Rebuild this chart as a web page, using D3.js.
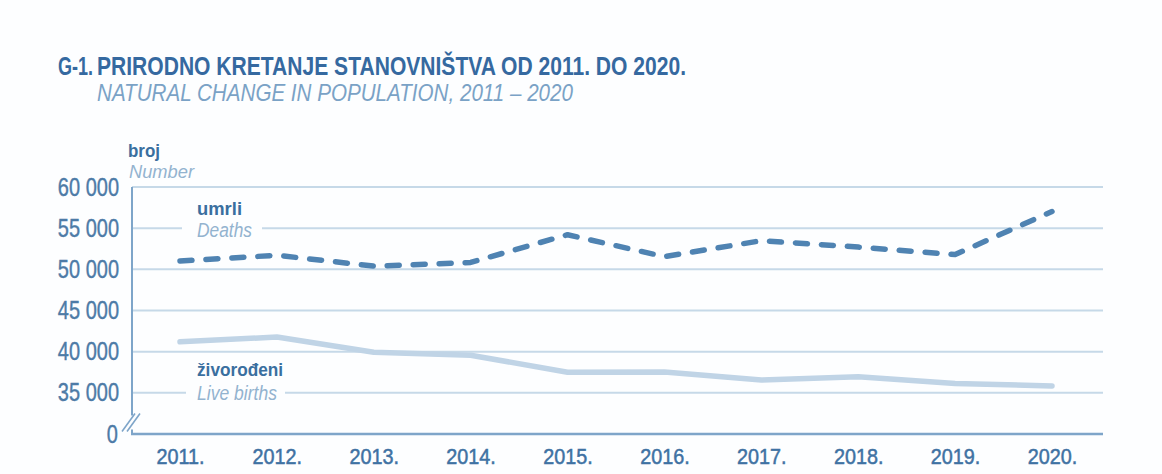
<!DOCTYPE html>
<html><head><meta charset="utf-8">
<script src="https://cdn.jsdelivr.net/npm/d3@7"></script>
<style>
body{margin:0;background:#fdfeff;}
text{font-family:"Liberation Sans",Arial,sans-serif;}
</style></head><body>
<svg id="c" width="1162" height="474"></svg>
<script>
const years = ["2011.","2012.","2013.","2014.","2015.","2016.","2017.","2018.","2019.","2020."];
const deaths = [51019, 51710, 50386, 50839, 54205, 51542, 53477, 52706, 51794, 57023];
const births = [41197, 41771, 39939, 39566, 37503, 37537, 36556, 36945, 36135, 35845];
const yTicks = [35000, 40000, 45000, 50000, 55000, 60000];

(function(){
const svg = d3.select("#c");
const pL = 132, pR = 1103, pT = 187, pB = 434;
const x = d3.scalePoint().domain(years).range([180, 1052]);
const y = d3.scaleLinear().domain([30000, 60000]).range([pB, pT]);
const fmt = v => d3.format(",")(v).replace(/,/g, " ");
const SX = 0.8;

const dark = "#3a6f9f", light = "#93b3cf";

function txt(px, py, s, o) {
  const t = svg.append("text")
    .attr("transform", `translate(${px},${py}) scale(${o.sx||SX},1)`)
    .attr("fill", o.fill).attr("font-size", o.size)
    .attr("font-weight", o.weight||"normal").attr("font-style", o.style||"normal")
    .attr("text-anchor", o.anchor||"start").text(s);
  if (o.len) t.attr("textLength", o.len/(o.sx||SX)).attr("lengthAdjust","spacingAndGlyphs");
  return t;
}

// title
txt(58, 75, "G-1.", {fill:"#3569a0", size:25, weight:"bold", len:35});
txt(97, 75, "PRIRODNO KRETANJE STANOVNIŠTVA OD 2011. DO 2020.", {fill:"#3569a0", size:25, weight:"bold", len:589});
txt(97, 101, "NATURAL CHANGE IN POPULATION, 2011 – 2020", {fill:"#7aa2c6", size:24, style:"italic", len:476});

txt(128, 157, "broj", {fill:dark, size:19, weight:"bold", len:32});
txt(129, 178, "Number", {fill:light, size:19, style:"italic", len:65});

// grid
const gaps = {55000:[182,262], 35000:[186,285]};
const grid = svg.append("g");
yTicks.forEach(t => {
  const g = gaps[t];
  if (g) {
    grid.append("line").attr("x1",pL).attr("x2",g[0]).attr("y1",y(t)).attr("y2",y(t));
    grid.append("line").attr("x1",g[1]).attr("x2",pR).attr("y1",y(t)).attr("y2",y(t));
  } else {
    grid.append("line").attr("x1",pL).attr("x2",pR).attr("y1",y(t)).attr("y2",y(t));
  }
});
grid.selectAll("line").attr("stroke","#c6d9e8").attr("stroke-width",2);

// y axis
const yAxis = d3.axisLeft(y).tickValues(yTicks).tickFormat(fmt).tickSize(0).tickPadding(0);
const ya = svg.append("g").attr("transform",`translate(${pL-13},0)`).call(yAxis);
ya.select(".domain").remove();
ya.selectAll("text").attr("x",0).attr("fill","#4d7ba7").attr("font-size",25)
  .attr("stroke","#4d7ba7").attr("stroke-width",0.4)
  .attr("transform",`scale(${SX},1)`);
txt(pL-14, pB+9, "0", {fill:"#4d7ba7", size:25, anchor:"end"}).attr("stroke","#4d7ba7").attr("stroke-width",0.4);

// axis lines
svg.append("line").attr("x1",pL).attr("x2",pL).attr("y1",pT).attr("y2",pB)
  .attr("stroke","#7ea5c9").attr("stroke-width",2);
svg.append("line").attr("x1",pL-1).attr("x2",pR).attr("y1",pB).attr("y2",pB)
  .attr("stroke","#7ea5c9").attr("stroke-width",2.5);
// break marks
const by = y(31400);
svg.append("rect").attr("x",pL-4).attr("y",by-7).attr("width",8).attr("height",14).attr("fill","#fdfeff");
[-3,2].forEach(o => {
  svg.append("line").attr("x1",pL-7+o).attr("x2",pL+6+o).attr("y1",by+9).attr("y2",by-9)
    .attr("stroke","#7ea5c9").attr("stroke-width",1.6);
});

// x axis
const XS = 0.9;
const xAxis = d3.axisBottom(x.copy().range([180/XS, 1052/XS])).tickSize(0).tickPadding(0);
const xa = svg.append("g").attr("transform",`translate(0,${pB}) scale(${XS},1)`).call(xAxis);
xa.select(".domain").remove();
xa.selectAll("text").attr("y",30).attr("dy",0).attr("fill","#3f72a3").attr("font-size",22)
  .attr("stroke","#3f72a3").attr("stroke-width",0.5);

// lines
const line = d3.line().x((d,i)=>x(years[i])).y(d=>y(d)).curve(d3.curveLinear);
svg.append("path").datum(births).attr("d",line).attr("fill","none")
  .attr("stroke","#c0d4e6").attr("stroke-width",5.5).attr("stroke-linejoin","round").attr("stroke-linecap","round");
svg.append("path").datum(deaths).attr("d",line).attr("fill","none")
  .attr("stroke","#4f83b2").attr("stroke-width",5.5).attr("stroke-dasharray","12,14")
  .attr("stroke-linecap","round").attr("stroke-linejoin","round");

// series labels
txt(197, 215, "umrli", {fill:dark, size:19, weight:"bold", len:45});
txt(197, 237, "Deaths", {fill:light, size:20, style:"italic", len:55});
txt(197, 376, "živorođeni", {fill:dark, size:19, weight:"bold", len:86});
txt(197, 400, "Live births", {fill:light, size:20, style:"italic", len:80});
})();
</script>
</body></html>
